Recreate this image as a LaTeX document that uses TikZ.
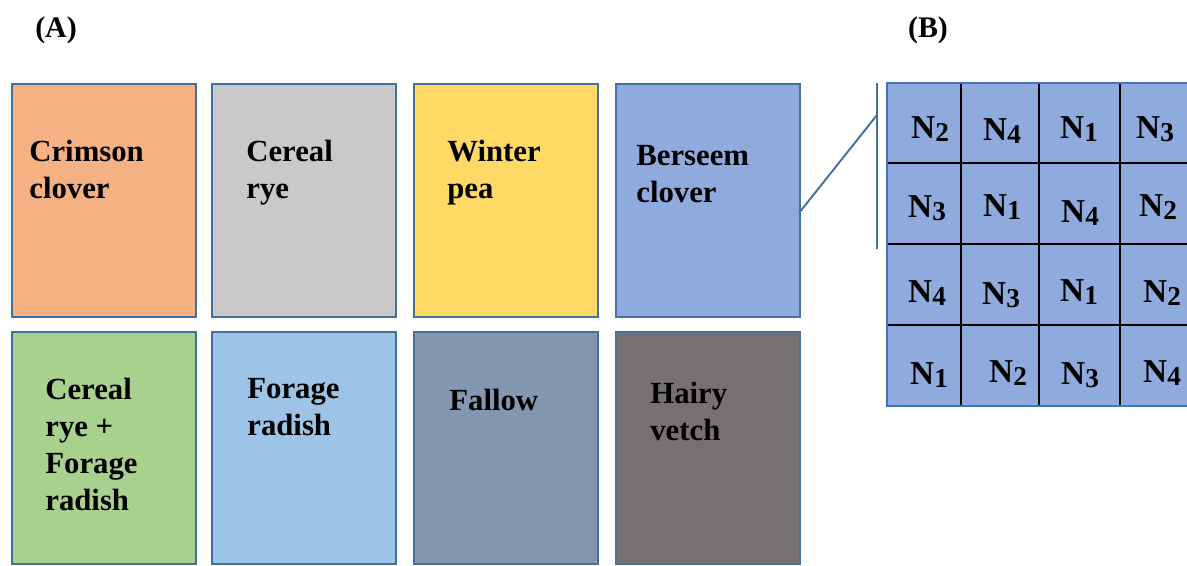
\documentclass[tikz,border=0pt]{standalone}
\usepackage{fontspec}
\setmainfont{Liberation Serif}
\definecolor{edge}{HTML}{41719C}
\definecolor{gridedge}{HTML}{4472C4}
\definecolor{crimson}{HTML}{F4B183}
\definecolor{rye}{HTML}{C9C9C9}
\definecolor{pea}{HTML}{FFD966}
\definecolor{berseem}{HTML}{8FAADC}
\definecolor{mix}{HTML}{A9D18E}
\definecolor{radish}{HTML}{9DC3E6}
\definecolor{fallow}{HTML}{8497B0}
\definecolor{vetch}{HTML}{767171}
\newcommand{\nrate}[1]{N\raisebox{-0.08em}{\fontsize{15.5}{15.5}\selectfont #1}}
\tikzset{
  plot/.style={draw=edge, line width=1.1pt, anchor=north west, inner sep=0pt,
    minimum width=3.68cm, minimum height=4.66cm},
  crop/.style={anchor=north west, align=left, inner sep=0pt,
    font=\fontsize{17.5}{21}\selectfont\bfseries},
  panel/.style={font=\fontsize{17}{20}\selectfont\bfseries, inner sep=0pt},
  nlab/.style={font=\fontsize{19}{19}\selectfont\bfseries, inner sep=0pt}
}
\begin{document}
\begin{tikzpicture}[x=0.02cm,y=-0.02cm]
\useasboundingbox (0,0) rectangle (1187,565);
\clip (0,0) rectangle (1187,565);
% panel A: cover crop plots
\node[panel] (pa) at (56,30) {(A)};
\node[plot, fill=crimson] (p1) at (11,83) {};
\node[plot, fill=rye] (p2) at (211,83) {};
\node[plot, fill=pea] (p3) at (413,83) {};
\node[plot, fill=berseem] (p4) at (615,83) {};
\node[plot, fill=mix, minimum height=4.64cm] (p5) at (11,331) {};
\node[plot, fill=radish, minimum height=4.64cm] (p6) at (211,331) {};
\node[plot, fill=fallow, minimum height=4.64cm] (p7) at (413,331) {};
\node[plot, fill=vetch, minimum height=4.64cm] (p8) at (615,331) {};
\node[crop] (t1) at (29,140) {Crimson\\clover};
\node[crop] (t2) at (246,140) {Cereal\\rye};
\node[crop] (t3) at (447,140) {Winter\\pea};
\node[crop] (t4) at (636,145) {Berseem\\clover};
\node[crop] (t5) at (45,378) {Cereal\\rye +\\Forage\\radish};
\node[crop] (t6) at (247,378) {Forage\\radish};
\node[crop] (t7) at (449,389) {Fallow};
\node[crop] (t8) at (650,382) {Hairy\\vetch};
% panel B: N rates inside one plot
\node[panel] (pb) at (928,30) {(B)};
\node[fill=berseem, anchor=north west, inner sep=0pt,
  minimum width=6.26cm, minimum height=6.44cm] (grid) at (887,83) {};
\foreach \x in {961,1039,1120}
  \draw[line width=0.6pt] (\x,83) -- (\x,405);
\foreach \y in {163,244,325}
  \draw[line width=0.6pt] (887,\y) -- (1200,\y);
\draw[gridedge, line width=1.1pt] (grid.north west) rectangle (grid.south east);
\foreach \x/\y/\k [count=\i] in {930/129/2,1002/131/4,1079/129/1,1155/129/3,
    927/208/3,1002/207/1,1080/213/4,1158/207/2,
    927/293/4,1001/295/3,1079/292/1,1162/293/2,
    929/375/1,1008/373/2,1080/375/3,1162/373/4}
  \node[nlab] (n\i) at (\x,\y) {\nrate{\k}};
% zoom line
\coordinate (zt) at (877,83);
\coordinate (zb) at (877,249);
\coordinate (zs) at (799,213);
\coordinate (ze) at (877,115);
\draw[edge, line width=1.1pt] (zt) -- (zb);
\draw[edge, line width=1.1pt] (zs) -- (ze);
\end{tikzpicture}
\end{document}
